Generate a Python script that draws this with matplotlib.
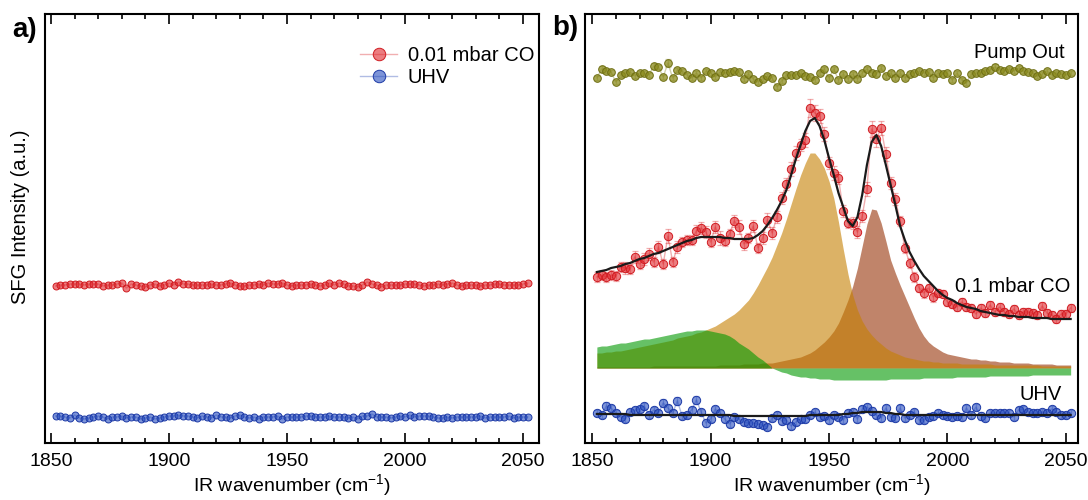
import numpy as np
import matplotlib
matplotlib.use("Agg")
import matplotlib.pyplot as plt

plt.rcParams['font.family'] = ['Liberation Sans', 'DejaVu Sans']
plt.rcParams['mathtext.fontset'] = 'custom'
plt.rcParams['mathtext.rm'] = 'Liberation Sans'
plt.rcParams['mathtext.it'] = 'Liberation Sans:italic'
plt.rcParams['mathtext.bf'] = 'Liberation Sans:bold'

# measurement grid (cm^-1)
wavenumber = np.arange(1852, 2053, 2)

# ---- panel a) ----
a_co = [1.57, 1.58, 1.58, 1.59, 1.59, 1.59, 1.58, 1.59, 1.59, 1.59,
        1.57, 1.58, 1.58, 1.59, 1.60, 1.55, 1.59, 1.58, 1.57, 1.56,
        1.58, 1.59, 1.57, 1.58, 1.60, 1.58, 1.61, 1.59, 1.59, 1.58,
        1.58, 1.58, 1.58, 1.59, 1.58, 1.58, 1.59, 1.60, 1.58, 1.57,
        1.57, 1.58, 1.58, 1.59, 1.58, 1.60, 1.59, 1.59, 1.60, 1.58,
        1.57, 1.58, 1.58, 1.58, 1.59, 1.58, 1.57, 1.58, 1.60, 1.58,
        1.60, 1.59, 1.57, 1.57, 1.56, 1.58, 1.61, 1.59, 1.58, 1.56,
        1.58, 1.58, 1.58, 1.58, 1.59, 1.59, 1.59, 1.58, 1.57, 1.58,
        1.58, 1.59, 1.58, 1.59, 1.60, 1.58, 1.57, 1.58, 1.58, 1.58,
        1.57, 1.58, 1.58, 1.59, 1.59, 1.58, 1.58, 1.58, 1.58, 1.59,
        1.60]
a_uhv = [0.27, 0.27, 0.26, 0.25, 0.28, 0.25, 0.24, 0.25, 0.26, 0.27,
         0.26, 0.24, 0.26, 0.26, 0.27, 0.25, 0.26, 0.26, 0.24, 0.25,
         0.26, 0.24, 0.25, 0.26, 0.27, 0.27, 0.28, 0.27, 0.27, 0.26,
         0.25, 0.27, 0.26, 0.25, 0.28, 0.26, 0.26, 0.25, 0.27, 0.28,
         0.26, 0.25, 0.26, 0.24, 0.26, 0.26, 0.26, 0.27, 0.24, 0.26,
         0.26, 0.26, 0.26, 0.27, 0.27, 0.26, 0.26, 0.26, 0.27, 0.26,
         0.26, 0.26, 0.25, 0.26, 0.24, 0.27, 0.27, 0.29, 0.26, 0.26,
         0.26, 0.25, 0.26, 0.27, 0.26, 0.28, 0.26, 0.27, 0.27, 0.27,
         0.26, 0.25, 0.25, 0.26, 0.25, 0.26, 0.26, 0.26, 0.26, 0.26,
         0.27, 0.25, 0.26, 0.26, 0.26, 0.26, 0.27, 0.25, 0.26, 0.26,
         0.26]

# ---- panel b) ----
b_pump = [3.65, 3.74, 3.72, 3.71, 3.61, 3.68, 3.70, 3.71, 3.67, 3.70,
          3.70, 3.68, 3.77, 3.76, 3.66, 3.80, 3.65, 3.73, 3.72, 3.68,
          3.65, 3.70, 3.65, 3.72, 3.70, 3.66, 3.71, 3.70, 3.71, 3.72,
          3.71, 3.64, 3.69, 3.64, 3.61, 3.64, 3.67, 3.65, 3.56, 3.62,
          3.68, 3.68, 3.68, 3.70, 3.67, 3.66, 3.63, 3.70, 3.74, 3.65,
          3.74, 3.63, 3.69, 3.64, 3.69, 3.64, 3.70, 3.74, 3.70, 3.69,
          3.75, 3.67, 3.70, 3.65, 3.70, 3.65, 3.69, 3.70, 3.72, 3.70,
          3.71, 3.65, 3.70, 3.69, 3.70, 3.63, 3.70, 3.63, 3.60, 3.69,
          3.70, 3.70, 3.72, 3.73, 3.76, 3.73, 3.72, 3.74, 3.72, 3.75,
          3.72, 3.71, 3.70, 3.67, 3.69, 3.72, 3.68, 3.70, 3.69, 3.68,
          3.70]
b_pump_err = [0.02, 0.03, 0.02, 0.02, 0.02, 0.02, 0.02, 0.02, 0.02, 0.02,
              0.02, 0.02, 0.03, 0.02, 0.02, 0.04, 0.02, 0.02, 0.02, 0.02,
              0.02, 0.02, 0.02, 0.02, 0.02, 0.02, 0.02, 0.03, 0.02, 0.02,
              0.02, 0.02, 0.02, 0.02, 0.02, 0.02, 0.02, 0.02, 0.02, 0.02,
              0.02, 0.02, 0.02, 0.02, 0.02, 0.02, 0.02, 0.02, 0.02, 0.02,
              0.02, 0.02, 0.02, 0.02, 0.02, 0.02, 0.02, 0.02, 0.02, 0.02,
              0.02, 0.02, 0.02, 0.02, 0.02, 0.02, 0.02, 0.02, 0.02, 0.02,
              0.02, 0.02, 0.02, 0.02, 0.02, 0.02, 0.02, 0.02, 0.02, 0.02,
              0.02, 0.02, 0.02, 0.02, 0.03, 0.02, 0.02, 0.02, 0.02, 0.02,
              0.02, 0.02, 0.02, 0.02, 0.02, 0.02, 0.02, 0.02, 0.02, 0.02,
              0.02]

b_co = [1.66, 1.68, 1.66, 1.68, 1.67, 1.76, 1.75, 1.74, 1.86, 1.79,
        1.84, 1.89, 1.81, 1.96, 1.79, 2.07, 1.81, 1.96, 2.01, 2.03,
        2.03, 2.12, 2.15, 2.11, 2.01, 2.16, 2.05, 2.02, 2.09, 2.22,
        2.16, 1.99, 2.05, 2.17, 1.95, 2.05, 2.23, 2.10, 2.26, 2.45,
        2.59, 2.74, 2.90, 2.98, 3.03, 3.35, 3.30, 3.27, 3.09, 2.80,
        2.70, 2.65, 2.32, 2.20, 2.20, 2.11, 2.27, 2.54, 3.14, 3.04,
        3.15, 2.89, 2.60, 2.44, 2.22, 1.95, 1.80, 1.66, 1.55, 1.50,
        1.55, 1.46, 1.50, 1.49, 1.41, 1.39, 1.36, 1.41, 1.36, 1.35,
        1.29, 1.35, 1.30, 1.38, 1.31, 1.36, 1.31, 1.29, 1.34, 1.28,
        1.31, 1.31, 1.30, 1.28, 1.37, 1.30, 1.28, 1.24, 1.29, 1.29,
        1.35]
b_co_err = [0.05, 0.05, 0.05, 0.05, 0.05, 0.05, 0.06, 0.05, 0.06, 0.05,
            0.06, 0.06, 0.05, 0.06, 0.05, 0.07, 0.05, 0.06, 0.05, 0.05,
            0.05, 0.06, 0.06, 0.06, 0.05, 0.06, 0.07, 0.05, 0.05, 0.06,
            0.07, 0.06, 0.05, 0.06, 0.05, 0.06, 0.07, 0.06, 0.06, 0.06,
            0.06, 0.07, 0.07, 0.06, 0.07, 0.09, 0.08, 0.07, 0.07, 0.06,
            0.07, 0.06, 0.06, 0.05, 0.06, 0.06, 0.06, 0.07, 0.08, 0.08,
            0.07, 0.07, 0.06, 0.06, 0.05, 0.05, 0.05, 0.05, 0.04, 0.05,
            0.04, 0.05, 0.04, 0.04, 0.04, 0.04, 0.04, 0.04, 0.04, 0.04,
            0.04, 0.04, 0.04, 0.04, 0.04, 0.04, 0.04, 0.04, 0.04, 0.04,
            0.04, 0.04, 0.04, 0.04, 0.04, 0.04, 0.04, 0.04, 0.04, 0.04,
            0.04]
b_co_fit = [1.71, 1.72, 1.73, 1.75, 1.76, 1.77, 1.79, 1.80, 1.82, 1.84,
            1.85, 1.87, 1.89, 1.90, 1.92, 1.94, 1.96, 1.98, 2.00, 2.02,
            2.03, 2.05, 2.06, 2.06, 2.06, 2.06, 2.06, 2.05, 2.05, 2.04,
            2.04, 2.04, 2.04, 2.05, 2.08, 2.12, 2.18, 2.25, 2.33, 2.42,
            2.53, 2.68, 2.84, 2.98, 3.12, 3.22, 3.25, 3.17, 3.03, 2.85,
            2.68, 2.50, 2.36, 2.22, 2.17, 2.26, 2.48, 2.78, 3.01, 3.08,
            2.97, 2.78, 2.58, 2.38, 2.17, 2.03, 1.91, 1.82, 1.74, 1.67,
            1.62, 1.57, 1.52, 1.48, 1.45, 1.43, 1.40, 1.38, 1.36, 1.35,
            1.34, 1.32, 1.31, 1.30, 1.29, 1.28, 1.28, 1.27, 1.27, 1.26,
            1.26, 1.26, 1.25, 1.25, 1.25, 1.25, 1.24, 1.24, 1.24, 1.24,
            1.24]

b_uhv = [0.30, 0.28, 0.37, 0.35, 0.30, 0.26, 0.24, 0.31, 0.33, 0.34,
         0.37, 0.28, 0.33, 0.30, 0.40, 0.35, 0.30, 0.42, 0.27, 0.28,
         0.33, 0.43, 0.31, 0.20, 0.24, 0.34, 0.30, 0.24, 0.19, 0.26,
         0.24, 0.21, 0.20, 0.20, 0.19, 0.18, 0.16, 0.25, 0.28, 0.22,
         0.23, 0.17, 0.21, 0.24, 0.24, 0.28, 0.31, 0.26, 0.27, 0.23,
         0.28, 0.26, 0.23, 0.30, 0.31, 0.24, 0.34, 0.36, 0.32, 0.28,
         0.25, 0.35, 0.26, 0.25, 0.35, 0.25, 0.28, 0.31, 0.23, 0.23,
         0.26, 0.27, 0.30, 0.28, 0.27, 0.26, 0.27, 0.26, 0.35, 0.28,
         0.36, 0.27, 0.25, 0.30, 0.30, 0.30, 0.30, 0.30, 0.26, 0.33,
         0.34, 0.31, 0.30, 0.30, 0.31, 0.30, 0.34, 0.31, 0.28, 0.28,
         0.30]
b_uhv_err = [0.03, 0.03, 0.04, 0.03, 0.03, 0.03, 0.03, 0.03, 0.03, 0.03,
             0.03, 0.03, 0.03, 0.03, 0.04, 0.03, 0.03, 0.04, 0.03, 0.03,
             0.03, 0.04, 0.03, 0.04, 0.03, 0.03, 0.03, 0.03, 0.03, 0.03,
             0.03, 0.03, 0.03, 0.03, 0.03, 0.03, 0.03, 0.03, 0.03, 0.03,
             0.03, 0.03, 0.03, 0.03, 0.03, 0.03, 0.03, 0.03, 0.03, 0.03,
             0.03, 0.03, 0.03, 0.03, 0.03, 0.03, 0.03, 0.03, 0.04, 0.03,
             0.03, 0.03, 0.03, 0.03, 0.03, 0.03, 0.03, 0.03, 0.03, 0.03,
             0.03, 0.03, 0.03, 0.03, 0.03, 0.03, 0.03, 0.03, 0.03, 0.03,
             0.03, 0.04, 0.03, 0.03, 0.03, 0.03, 0.03, 0.03, 0.03, 0.03,
             0.03, 0.03, 0.03, 0.03, 0.03, 0.03, 0.03, 0.03, 0.03, 0.03,
             0.03]
b_uhv_fit = [0.29, 0.29, 0.29, 0.29, 0.29, 0.29, 0.29, 0.28, 0.28, 0.28,
             0.28, 0.28, 0.28, 0.28, 0.28, 0.28, 0.28, 0.28, 0.28, 0.28,
             0.28, 0.28, 0.28, 0.28, 0.28, 0.28, 0.28, 0.28, 0.28, 0.27,
             0.27, 0.27, 0.27, 0.27, 0.27, 0.27, 0.27, 0.27, 0.27, 0.27,
             0.27, 0.27, 0.27, 0.27, 0.27, 0.28, 0.28, 0.28, 0.28, 0.28,
             0.28, 0.28, 0.29, 0.29, 0.30, 0.30, 0.31, 0.31, 0.31, 0.31,
             0.31, 0.30, 0.30, 0.29, 0.29, 0.28, 0.28, 0.28, 0.28, 0.28,
             0.28, 0.28, 0.28, 0.28, 0.28, 0.28, 0.28, 0.28, 0.28, 0.28,
             0.28, 0.28, 0.28, 0.28, 0.28, 0.28, 0.28, 0.28, 0.28, 0.28,
             0.28, 0.28, 0.28, 0.28, 0.28, 0.28, 0.28, 0.28, 0.28, 0.28,
             0.28]

# fit components of the 0.1 mbar CO spectrum (height above their baseline)
comp_green = [0.21, 0.22, 0.22, 0.23, 0.24, 0.25, 0.25, 0.26, 0.27, 0.28,
              0.29, 0.29, 0.30, 0.31, 0.32, 0.33, 0.34, 0.35, 0.36, 0.37,
              0.37, 0.38, 0.38, 0.38, 0.37, 0.36, 0.35, 0.34, 0.32, 0.29,
              0.25, 0.22, 0.19, 0.15, 0.11, 0.08, 0.04, 0.00, -0.02, -0.04,
              -0.05, -0.07, -0.08, -0.09, -0.09, -0.10, -0.10, -0.11, -0.11, -0.11,
              -0.12, -0.12, -0.12, -0.12, -0.12, -0.12, -0.12, -0.12, -0.12, -0.12,
              -0.12, -0.12, -0.11, -0.11, -0.11, -0.11, -0.11, -0.11, -0.11, -0.10,
              -0.10, -0.10, -0.10, -0.10, -0.10, -0.10, -0.09, -0.09, -0.09, -0.09,
              -0.09, -0.09, -0.09, -0.08, -0.08, -0.08, -0.08, -0.08, -0.08, -0.08,
              -0.08, -0.08, -0.07, -0.07, -0.07, -0.07, -0.07, -0.07, -0.07, -0.07,
              -0.07]
comp_orange = [0.15, 0.15, 0.16, 0.16, 0.17, 0.17, 0.18, 0.19, 0.20, 0.21,
               0.22, 0.23, 0.24, 0.25, 0.26, 0.27, 0.28, 0.30, 0.31, 0.32,
               0.33, 0.35, 0.36, 0.38, 0.40, 0.42, 0.45, 0.48, 0.51, 0.54,
               0.58, 0.63, 0.68, 0.75, 0.83, 0.92, 1.01, 1.11, 1.23, 1.35,
               1.49, 1.64, 1.79, 1.93, 2.05, 2.15, 2.15, 2.09, 2.00, 1.87,
               1.70, 1.46, 1.19, 0.94, 0.73, 0.58, 0.47, 0.39, 0.33, 0.28,
               0.24, 0.20, 0.17, 0.15, 0.13, 0.11, 0.10, 0.09, 0.08, 0.07,
               0.07, 0.06, 0.06, 0.05, 0.05, 0.05, 0.05, 0.04, 0.04, 0.04,
               0.04, 0.04, 0.04, 0.04, 0.03, 0.03, 0.03, 0.03, 0.03, 0.03,
               0.03, 0.03, 0.03, 0.03, 0.02, 0.02, 0.02, 0.02, 0.02, 0.02,
               0.02]
comp_brown = [0.01, 0.01, 0.01, 0.01, 0.01, 0.01, 0.01, 0.01, 0.01, 0.01,
              0.01, 0.01, 0.02, 0.02, 0.02, 0.02, 0.02, 0.02, 0.02, 0.02,
              0.02, 0.02, 0.02, 0.02, 0.02, 0.02, 0.03, 0.03, 0.03, 0.03,
              0.03, 0.04, 0.04, 0.04, 0.04, 0.05, 0.05, 0.05, 0.06, 0.07,
              0.08, 0.09, 0.10, 0.11, 0.13, 0.15, 0.18, 0.22, 0.26, 0.31,
              0.37, 0.45, 0.56, 0.68, 0.82, 1.00, 1.22, 1.44, 1.59, 1.58,
              1.45, 1.27, 1.08, 0.95, 0.83, 0.72, 0.61, 0.50, 0.40, 0.32,
              0.26, 0.22, 0.19, 0.16, 0.14, 0.13, 0.12, 0.11, 0.10, 0.09,
              0.09, 0.08, 0.08, 0.07, 0.07, 0.06, 0.06, 0.06, 0.05, 0.05,
              0.05, 0.05, 0.04, 0.04, 0.04, 0.04, 0.04, 0.03, 0.03, 0.03,
              0.03]
comp_base = 0.75

red = dict(line=(0.85, 0.1, 0.12, 0.35), face=(0.88, 0.15, 0.17, 0.6), edge='#d01c22')
blue = dict(line=(0.12, 0.25, 0.7, 0.35), face=(0.15, 0.3, 0.75, 0.6), edge='#1d3aa6')
olive = dict(line=(0.5, 0.5, 0.1, 0.35), face=(0.55, 0.55, 0.12, 0.75), edge='#6e6e12')


def series(ax, y, c, err=None, ms=5, label=None):
    if err is not None:
        ax.errorbar(wavenumber, y, yerr=err, fmt='none', ecolor=c['line'],
                    elinewidth=0.9, capsize=2.5, capthick=0.9, zorder=3)
    ln, = ax.plot(wavenumber, y, '-o', color=c['line'], lw=1.0, ms=ms,
                  mfc=c['face'], mec=c['edge'], mew=0.7, zorder=4, label=label)
    return ln


def style(ax, xlim):
    ax.set_xlim(*xlim)
    ax.set_ylim(0, 4.29)
    ax.set_yticks([])
    ax.set_xticks([1850, 1900, 1950, 2000, 2050])
    ax.set_xticks(np.arange(1850, 2051, 10), minor=True)
    ax.tick_params(axis='x', which='both', direction='in', top=True, bottom=True,
                   labelsize=14, pad=7, width=1.2)
    ax.tick_params(axis='x', which='major', length=7)
    ax.tick_params(axis='x', which='minor', length=3.5)
    for s in ax.spines.values():
        s.set_linewidth(1.5)
    ax.set_xlabel('IR wavenumber (cm$^{-1}$)', fontsize=14, labelpad=2)


fig = plt.figure(figsize=(10.88, 5.0), dpi=100)
ax_a = fig.add_axes([0.0414, 0.114, 0.4540, 0.858])
ax_b = fig.add_axes([0.5377, 0.114, 0.4531, 0.858])

# a)
series(ax_a, a_co, red, ms=5, label='0.01 mbar CO')
series(ax_a, a_uhv, blue, ms=5, label='UHV')
style(ax_a, (1847.5, 2056.8))
ax_a.set_ylabel('SFG Intensity (a.u.)', fontsize=14.5)
ax_a.yaxis.set_label_coords(-0.03, 0.527)
ax_a.legend(loc='upper right', bbox_to_anchor=(0.99, 0.925), frameon=False,
            fontsize=14.5, markerscale=1.8, handlelength=1.85, handletextpad=0.5,
            labelspacing=0.15, borderpad=0, borderaxespad=0)

# b)
x = wavenumber
ax_b.fill_between(x, comp_base, comp_base + np.array(comp_brown), color='#963207',
                  alpha=0.6, lw=0, zorder=1)
ax_b.fill_between(x, comp_base, comp_base + np.array(comp_orange), color='#c68000',
                  alpha=0.6, lw=0, zorder=1)
ax_b.fill_between(x, comp_base, comp_base + np.array(comp_green), color='#009800',
                  alpha=0.6, lw=0, zorder=1)

series(ax_b, b_pump, olive, b_pump_err, ms=5.5)
series(ax_b, b_co, red, b_co_err, ms=6)
series(ax_b, b_uhv, blue, b_uhv_err, ms=6)
ax_b.plot(x, b_co_fit, color='#1a1a1a', lw=1.6, zorder=5)
ax_b.plot(x, b_uhv_fit, color='#1a1a1a', lw=1.6, zorder=5)
style(ax_b, (1847.0, 2055.1))

ax_b.text(2049.6, 3.91, 'Pump Out', ha='right', va='center', fontsize=14.5)
ax_b.text(2051.7, 1.57, '0.1 mbar CO', ha='right', va='center', fontsize=14.5, zorder=6)
ax_b.text(2048.3, 0.49, 'UHV', ha='right', va='center', fontsize=14.5)

fig.text(0.011, 0.94, 'a)', fontsize=20, fontweight='bold', va='center')
fig.text(0.508, 0.944, 'b)', fontsize=20, fontweight='bold', va='center')

fig.savefig('out.png', dpi=100)
